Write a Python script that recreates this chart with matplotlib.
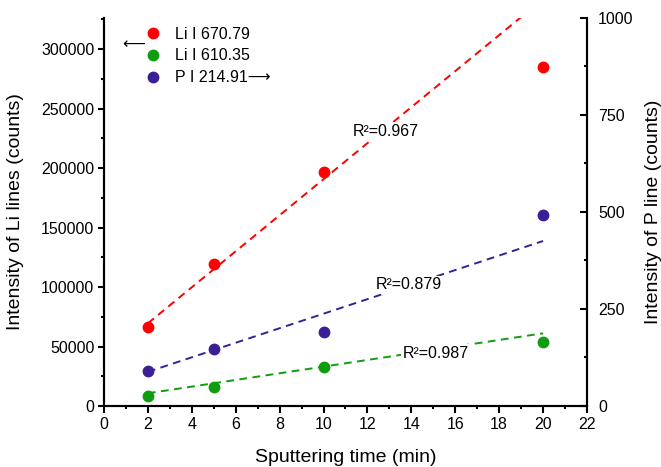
import numpy as np
import matplotlib
matplotlib.use("Agg")
import matplotlib.pyplot as plt
from matplotlib.ticker import MultipleLocator
from matplotlib.lines import Line2D

plt.rcParams['font.family'] = ['Liberation Sans', 'DejaVu Sans']

# sputtering time (min)
time_min = [2, 5, 10, 20]

# measured intensities
li_670 = [66400, 119300, 196600, 284900]   # left axis
li_610 = [8400, 16200, 33000, 54000]       # left axis
p_214 = [91, 148, 191, 492]                # right axis

# trend lines as drawn (values at start / end time)
fit_x = [2, 20]
li_670_fit = [69500, 342000]
li_610_fit = [10700, 61100]
p_214_fit = [88, 425]

r2_labels = ["R²=0.967", "R²=0.987", "R²=0.879"]

red = '#ff0000'
green = '#0f9d0f'
purple = '#3c1e96'
dash = (0, (4, 2.8))

fig, ax = plt.subplots(figsize=(6.61, 4.67), dpi=100)
fig.subplots_adjust(left=0.1573, right=0.888, top=0.962, bottom=0.1306)
ax2 = ax.twinx()

ax.plot(fit_x, li_670_fit, color=red, lw=1.4, ls=dash, zorder=2)
ax.plot(fit_x, li_610_fit, color=green, lw=1.4, ls=dash, zorder=2)
ax2.plot(fit_x, p_214_fit, color=purple, lw=1.4, ls=dash, zorder=2)

ax.plot(time_min, li_670, 'o', color=red, ms=7.5, zorder=3)
ax.plot(time_min, li_610, 'o', color=green, ms=7.5, zorder=3)
ax2.plot(time_min, p_214, 'o', color=purple, ms=7.5, zorder=3)

box = dict(boxstyle='square,pad=0.1', fc='white', ec='none')
ax.text(12.85, 231100, r2_labels[0], fontsize=11.5, ha='center', va='center', bbox=box, zorder=4)
ax.text(15.1, 44500, r2_labels[1], fontsize=11.5, ha='center', va='center', bbox=box, zorder=4)
ax2.text(13.9, 312, r2_labels[2], fontsize=11.5, ha='center', va='center', bbox=box, zorder=4)

ax.set_xlim(0, 22)
ax.set_ylim(0, 326300)
ax2.set_ylim(0, 1000)

ax.xaxis.set_major_locator(MultipleLocator(2))
ax.xaxis.set_minor_locator(MultipleLocator(1))
ax.yaxis.set_major_locator(MultipleLocator(50000))
ax.yaxis.set_minor_locator(MultipleLocator(25000))
ax2.yaxis.set_major_locator(MultipleLocator(250))
ax2.yaxis.set_minor_locator(MultipleLocator(125))

for a in (ax, ax2):
    a.spines['top'].set_visible(False)
    for s in a.spines.values():
        s.set_linewidth(1.5)

ax.tick_params(axis='x', which='major', direction='out', length=5, width=1.5, labelsize=11.5, pad=3)
ax.tick_params(axis='x', which='minor', direction='out', length=2.5, width=1.5)
ax.tick_params(axis='y', which='major', direction='out', length=4, width=1.5, labelsize=11.5, pad=3)
ax.tick_params(axis='y', which='minor', direction='out', length=2, width=1.5)
ax2.tick_params(axis='y', which='major', direction='in', length=5, width=1.5, labelsize=11.5, pad=8)
ax2.tick_params(axis='y', which='minor', direction='in', length=2.5, width=1.5)

ax.set_xlabel("Sputtering time (min)", fontsize=14, labelpad=12)
ax.set_ylabel("Intensity of Li lines (counts)", fontsize=14, labelpad=12)
ax2.set_ylabel("Intensity of P line (counts)", fontsize=14, labelpad=8)

handles = [
    Line2D([], [], ls='none', marker='o', color=red, ms=7.5),
    Line2D([], [], ls='none', marker='o', color=green, ms=7.5),
    Line2D([], [], ls='none', marker='o', color=purple, ms=7.5),
]
names = ["Li I 670.79", "Li I 610.35", "P I 214.91⟶"]
ax2.legend(handles, names, loc='upper left', bbox_to_anchor=(0.085, 0.977),
           frameon=False, fontsize=11.5, handlelength=1.0, handletextpad=0.9,
           labelspacing=0.42, borderpad=0, borderaxespad=0)
ax2.text(0.062, 0.932, "⟵", transform=ax2.transAxes, fontsize=11.5,
         ha='center', va='center')

fig.savefig("out.png", dpi=100)
